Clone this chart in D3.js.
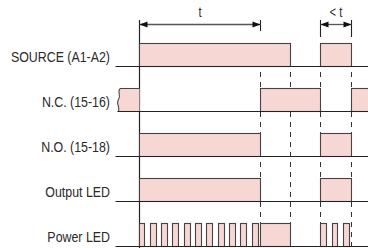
<!DOCTYPE html>
<html>
<head>
<meta charset="utf-8">
<script src="https://cdn.jsdelivr.net/npm/d3@7"></script>
<style>
  html, body { margin: 0; padding: 0; background: #fff; }
  svg { display: block; }
</style>
</head>
<body>
<svg id="chart" width="368" height="248"></svg>
<script>
// ---- data (time units) ----
const rows = ["SOURCE (A1-A2)", "N.C. (15-16)", "N.O. (15-18)", "Output LED", "Power LED"];
const timeWindow = [-0.76, 7.6];
const sourceOn = [[0, 5], [6, 7]];
const ncOn = [[-0.72, 0], [4, 6], [7, 7.6]];
const noOn = [[0, 4], [6, 7]];
const outputLedOn = [[0, 4], [6, 7]];
const powerSteady = [[4, 5]];
const powerPulses = [0, 0.374, 0.748, 1.122, 1.496, 1.87, 2.244, 2.618, 2.992, 3.366, 3.74, 6, 6.374, 6.748];
const pulseWidth = 0.19;
const markers = [4, 5, 6, 7];
const delaySpan = [0, 4];
const delayLabel = "t";
const shortSpan = [6, 7];
const shortLabel = "< t";

// ---- drawing ----
const svg = d3.select("#chart");
const x = d3.scaleLinear().domain([0, 7]).range([138.5, 350.6]);
const y = d3.scalePoint().domain(rows).range([66, 246]);
const H = 23;
const px = v => Math.round(x(v)) + 0.5;
const FILL = "#f7d7d4", EDGE = "#444";
const FONT = "'Liberation Sans', Arial, sans-serif";
const SX = 0.8; // condensed look

// dashed marker lines
svg.append("g").selectAll("line").data(markers).join("line")
  .attr("x1", d => px(d)).attr("x2", d => px(d))
  .attr("y1", 72).attr("y2", 248)
  .attr("stroke", "#333").attr("stroke-width", 1)
  .attr("stroke-dasharray", "5,5");

// main vertical line
svg.append("line")
  .attr("x1", px(0)).attr("x2", px(0)).attr("y1", 20).attr("y2", 248)
  .attr("stroke", "#222").attr("stroke-width", 1.2);

function blocks(row, intervals) {
  const yb = y(row) + 0.5;
  svg.append("g").selectAll("rect").data(intervals).join("rect")
    .attr("x", d => px(d[0]))
    .attr("width", d => px(Math.min(d[1], timeWindow[1])) - px(d[0]) + (d[1] >= timeWindow[1] ? 4 : 0))
    .attr("y", yb - H).attr("height", H)
    .attr("fill", FILL).attr("stroke", EDGE).attr("stroke-width", 1.1);
}

blocks(rows[0], sourceOn);
// N.C.: first block has a wavy left edge
{
  const yb = y(rows[1]) + 0.5, yt = yb - H;
  const x0 = px(ncOn[0][0]), x1 = px(ncOn[0][1]);
  const p = d3.path();
  p.moveTo(x1, yt);
  p.lineTo(x0 + 3, yt);
  p.bezierCurveTo(x0 - 1, yt + 2, x0 + 4, yt + 7, x0 + 1, yt + 11);
  p.bezierCurveTo(x0 - 2, yt + 15, x0 + 3, yt + 19, x0 + 1, yb);
  p.lineTo(x1, yb);
  svg.append("path").attr("d", p.toString())
    .attr("fill", FILL).attr("stroke", EDGE).attr("stroke-width", 1.1);
  blocks(rows[1], ncOn.slice(1));
}
blocks(rows[2], noOn);
blocks(rows[3], outputLedOn);
blocks(rows[4], powerSteady);
blocks(rows[4], powerPulses.map(s => [s, s + pulseWidth]));

// baselines
svg.append("g").selectAll("line").data(rows).join("line")
  .attr("x1", (d, i) => i === 1 ? px(ncOn[0][0]) : px(timeWindow[0]))
  .attr("x2", 368)
  .attr("y1", d => y(d) + 0.5).attr("y2", d => y(d) + 0.5)
  .attr("stroke", "#222").attr("stroke-width", 1.1);

// row labels
svg.append("g").selectAll("text").data(rows).join("text")
  .attr("transform", d => `translate(110,${y(d) - 4}) scale(${SX},1)`)
  .attr("text-anchor", "end")
  .attr("font-family", FONT).attr("font-size", 15.5)
  .attr("fill", "#2a2a2a")
  .text(d => d);

// dimension arrows
function dimension(span, yLine, label, extTop, extBottoms) {
  const a = px(span[0]), b = px(span[1]);
  span.forEach((s, i) => {
    if (extBottoms[i] == null) return;
    svg.append("line").attr("x1", px(s)).attr("x2", px(s))
      .attr("y1", extTop).attr("y2", extBottoms[i])
      .attr("stroke", "#222").attr("stroke-width", 1.1);
  });
  svg.append("line").attr("x1", a).attr("x2", b).attr("y1", yLine).attr("y2", yLine)
    .attr("stroke", "#555").attr("stroke-width", 1.3);
  const L = 8, W = 3;
  svg.append("path").attr("d", `M${a},${yLine}L${a + L},${yLine - W}L${a + L},${yLine + W}Z`).attr("fill", "#111");
  svg.append("path").attr("d", `M${b},${yLine}L${b - L},${yLine - W}L${b - L},${yLine + W}Z`).attr("fill", "#111");
  svg.append("text").attr("transform", `translate(${(a + b) / 2},${yLine - 8}) scale(${SX},1)`)
    .attr("text-anchor", "middle").attr("font-family", FONT).attr("font-size", 14)
    .attr("fill", "#2a2a2a").text(label);
}
dimension(delaySpan, 24.5, delayLabel, 20, [null, 31]);
dimension(shortSpan, 24.5, shortLabel, 20, [37, 37]);
</script>
</body>
</html>
